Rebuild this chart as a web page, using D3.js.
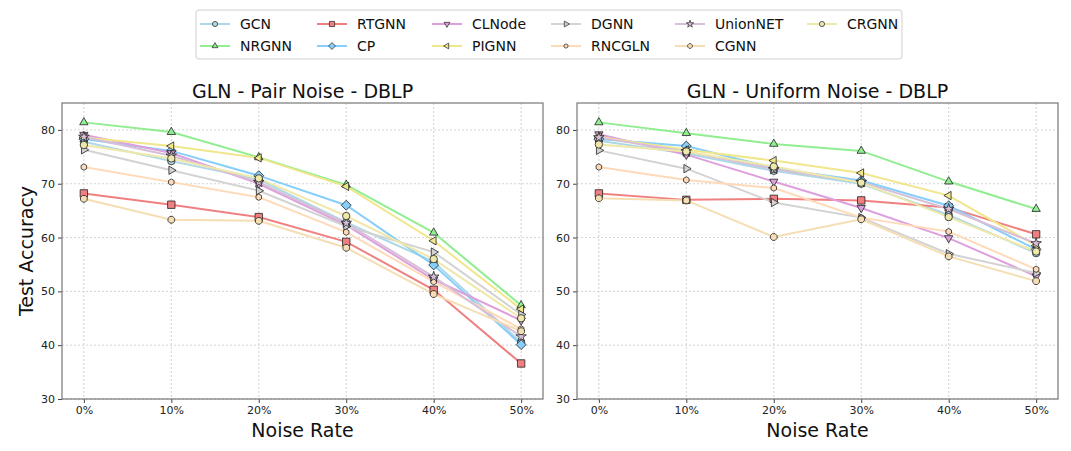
<!DOCTYPE html>
<html>
<head>
<meta charset="utf-8">
<script src="https://cdn.jsdelivr.net/npm/d3@7"></script>
<style>
  body { margin: 0; background: #fff; }
  svg { font-family: "DejaVu Sans", sans-serif; }
</style>
</head>
<body>
<div id="chart"></div>
<script>
// noise rates on the x axis
const noiseRates = [0, 10, 20, 30, 40, 50];
const tickLabels = ["0%", "10%", "20%", "30%", "40%", "50%"];
const yTicks = [30, 40, 50, 60, 70, 80];

const methods = ["GCN", "NRGNN", "RTGNN", "CP", "CLNode", "PIGNN", "DGNN", "RNCGLN", "UnionNET", "CGNN", "CRGNN"];

// Pair noise - DBLP
const pairGCN      = [77.8, 74.2, 70.8, 62.8, 55.5, 40.5];
const pairNRGNN    = [81.4, 79.6, 74.9, 69.8, 60.9, 47.4];
const pairRTGNN    = [68.2, 66.1, 63.8, 59.2, 50.3, 36.6];
const pairCP       = [78.3, 76.1, 71.5, 66.0, 54.9, 40.1];
const pairCLNode   = [79.1, 75.7, 70.0, 62.3, 52.2, 44.6];
const pairPIGNN    = [78.6, 77.0, 74.8, 69.5, 59.4, 46.7];
const pairDGNN     = [76.3, 72.5, 68.7, 62.1, 57.3, 45.7];
const pairRNCGLN   = [73.1, 70.3, 67.5, 61.0, 51.8, 43.0];
const pairUnionNET = [78.7, 75.2, 70.3, 62.7, 52.7, 41.6];
const pairCGNN     = [67.2, 63.3, 63.1, 58.1, 49.5, 42.6];
const pairCRGNN    = [77.2, 74.7, 71.0, 64.0, 56.0, 45.0];

// Uniform noise - DBLP
const uniGCN      = [78.0, 75.6, 72.4, 70.0, 64.2, 57.1];
const uniNRGNN    = [81.4, 79.4, 77.4, 76.1, 70.4, 65.3];
const uniRTGNN    = [68.2, 67.0, 67.2, 66.9, 65.6, 60.6];
const uniCP       = [78.3, 77.0, 72.9, 70.6, 65.9, 57.8];
const uniCLNode   = [79.2, 75.4, 70.4, 65.5, 59.9, 52.8];
const uniPIGNN    = [78.7, 76.3, 74.3, 72.0, 67.8, 58.5];
const uniDGNN     = [76.2, 72.8, 66.5, 63.7, 57.0, 53.4];
const uniRNCGLN   = [73.1, 70.7, 69.2, 63.7, 61.1, 54.1];
const uniUnionNET = [78.6, 76.0, 72.7, 70.3, 65.3, 58.9];
const uniCGNN     = [67.3, 66.9, 60.1, 63.4, 56.5, 51.9];
const uniCRGNN    = [77.3, 76.0, 73.2, 70.2, 63.8, 57.4];

const pairSeries = [pairGCN, pairNRGNN, pairRTGNN, pairCP, pairCLNode, pairPIGNN, pairDGNN, pairRNCGLN, pairUnionNET, pairCGNN, pairCRGNN];
const uniSeries = [uniGCN, uniNRGNN, uniRTGNN, uniCP, uniCLNode, uniPIGNN, uniDGNN, uniRNCGLN, uniUnionNET, uniCGNN, uniCRGNN];

const colors = ["#add8e6", "#90ee90", "#f08080", "#87cefa", "#dda0dd", "#f0e68c", "#d3d3d3", "#ffdab9", "#d8bfd8", "#f5deb3", "#eee8aa"];
const markers = ["circle", "up", "square", "diamond", "down", "left", "right", "hex", "star", "oct", "circle"];
const markerSize = [3.7, 4, 3.7, 4.3, 4, 4, 4, 3.2, 3.4, 3.6, 3.7];

// marker paths, centred at 0,0
function polygon(n, r, rot) {
    const pts = [];
    for (let i = 0; i < n; i++) {
        const a = rot + i * 2 * Math.PI / n;
        pts.push([r * Math.cos(a), r * Math.sin(a)]);
    }
    return "M" + pts.map(p => p[0].toFixed(2) + "," + p[1].toFixed(2)).join("L") + "Z";
}
function markerPath(type, r) {
    switch (type) {
        case "circle": return d3.symbol(d3.symbolCircle, Math.PI * r * r)();
        case "square": return `M${-r},${-r}H${r}V${r}H${-r}Z`;
        case "diamond": return `M0,${-r * 1.15}L${r * 1.15},0L0,${r * 1.15}L${-r * 1.15},0Z`;
        case "up": return polygon(3, r * 1.2, -Math.PI / 2);
        case "down": return polygon(3, r * 1.2, Math.PI / 2);
        case "left": return polygon(3, r * 1.2, Math.PI);
        case "right": return polygon(3, r * 1.2, 0);
        case "hex": return polygon(6, r, -Math.PI / 2);
        case "oct": return polygon(8, r, Math.PI / 8);
        case "star": return d3.symbol(d3.symbolStar, r * r * 3)();
    }
}

const width = 1071, height = 451;
const svg = d3.select("#chart").append("svg")
    .attr("width", width)
    .attr("height", height);

const plotTop = 103, plotBottom = 399;
const y = d3.scaleLinear().domain([30, 85]).range([plotBottom, plotTop]);

function drawPanel(left, right, title, series) {
    const x = d3.scaleLinear().domain([-2.5, 52.5]).range([left, right]);
    const g = svg.append("g");

    // grid
    g.selectAll(".gx").data(noiseRates).enter().append("line")
        .attr("x1", d => x(d)).attr("x2", d => x(d))
        .attr("y1", plotTop).attr("y2", plotBottom)
        .attr("stroke", "#c8c8c8").attr("stroke-width", 0.8)
        .attr("stroke-dasharray", "2,2");
    g.selectAll(".gy").data(yTicks).enter().append("line")
        .attr("x1", left).attr("x2", right)
        .attr("y1", d => y(d)).attr("y2", d => y(d))
        .attr("stroke", "#c8c8c8").attr("stroke-width", 0.8)
        .attr("stroke-dasharray", "2,2");

    // axes
    const xAxis = g.append("g")
        .attr("transform", `translate(0,${plotBottom})`)
        .call(d3.axisBottom(x).tickValues(noiseRates).tickFormat((d, i) => tickLabels[i]).tickSize(4).tickSizeOuter(0));
    const yAxis = g.append("g")
        .attr("transform", `translate(${left},0)`)
        .call(d3.axisLeft(y).tickValues(yTicks).tickSize(4).tickSizeOuter(0));
    [xAxis, yAxis].forEach(a => {
        a.select(".domain").remove();
        a.selectAll("text").attr("font-size", 11).attr("fill", "#222")
            .attr("font-family", "DejaVu Sans");
        a.selectAll("line").attr("stroke", "#444");
    });

    // lines and markers
    const line = d3.line().x((d, i) => x(noiseRates[i])).y(d => y(d));
    series.forEach((vals, k) => {
        g.append("path")
            .attr("d", line(vals))
            .attr("fill", "none")
            .attr("stroke", colors[k])
            .attr("stroke-width", 2);
    });
    series.forEach((vals, k) => {
        g.selectAll(null).data(vals).enter().append("path")
            .attr("d", markerPath(markers[k], markerSize[k]))
            .attr("transform", (d, i) => `translate(${x(noiseRates[i])},${y(d)})`)
            .attr("fill", colors[k])
            .attr("stroke", "#222")
            .attr("stroke-width", 0.8);
    });

    // frame
    g.append("rect")
        .attr("x", left).attr("y", plotTop)
        .attr("width", right - left).attr("height", plotBottom - plotTop)
        .attr("fill", "none").attr("stroke", "#777").attr("stroke-width", 1.2);

    g.append("text")
        .attr("x", (left + right) / 2).attr("y", 98)
        .attr("text-anchor", "middle")
        .attr("font-size", 19).attr("fill", "#111")
        .text(title);

    g.append("text")
        .attr("x", (left + right) / 2).attr("y", 437)
        .attr("text-anchor", "middle")
        .attr("font-size", 19).attr("fill", "#111")
        .text("Noise Rate");
}

drawPanel(62, 543, "GLN - Pair Noise - DBLP", pairSeries);
drawPanel(577, 1058, "GLN - Uniform Noise - DBLP", uniSeries);

svg.append("text")
    .attr("transform", `translate(33,${(plotTop + plotBottom) / 2}) rotate(-90)`)
    .attr("text-anchor", "middle")
    .attr("font-size", 19).attr("fill", "#111")
    .text("Test Accuracy");

// legend, 6 columns x 2 rows
const legend = svg.append("g");
legend.append("rect")
    .attr("x", 196).attr("y", 10).attr("width", 706).attr("height", 49)
    .attr("rx", 3).attr("fill", "#fff").attr("stroke", "#d0d0d0");
const colX = [240, 357, 472, 591, 715, 847];
methods.forEach((m, k) => {
    const col = Math.floor(k / 2), row = k % 2;
    const tx = colX[col], ty = row === 0 ? 24 : 46;
    legend.append("line")
        .attr("x1", tx - 40).attr("x2", tx - 10)
        .attr("y1", ty).attr("y2", ty)
        .attr("stroke", colors[k]).attr("stroke-width", 2);
    legend.append("path")
        .attr("d", markerPath(markers[k], markerSize[k] * 0.7))
        .attr("transform", `translate(${tx - 25},${ty})`)
        .attr("fill", colors[k]).attr("stroke", "#222").attr("stroke-width", 0.7);
    legend.append("text")
        .attr("x", tx).attr("y", ty + 5)
        .attr("font-size", 14).attr("fill", "#111")
        .text(m);
});
</script>
</body>
</html>
